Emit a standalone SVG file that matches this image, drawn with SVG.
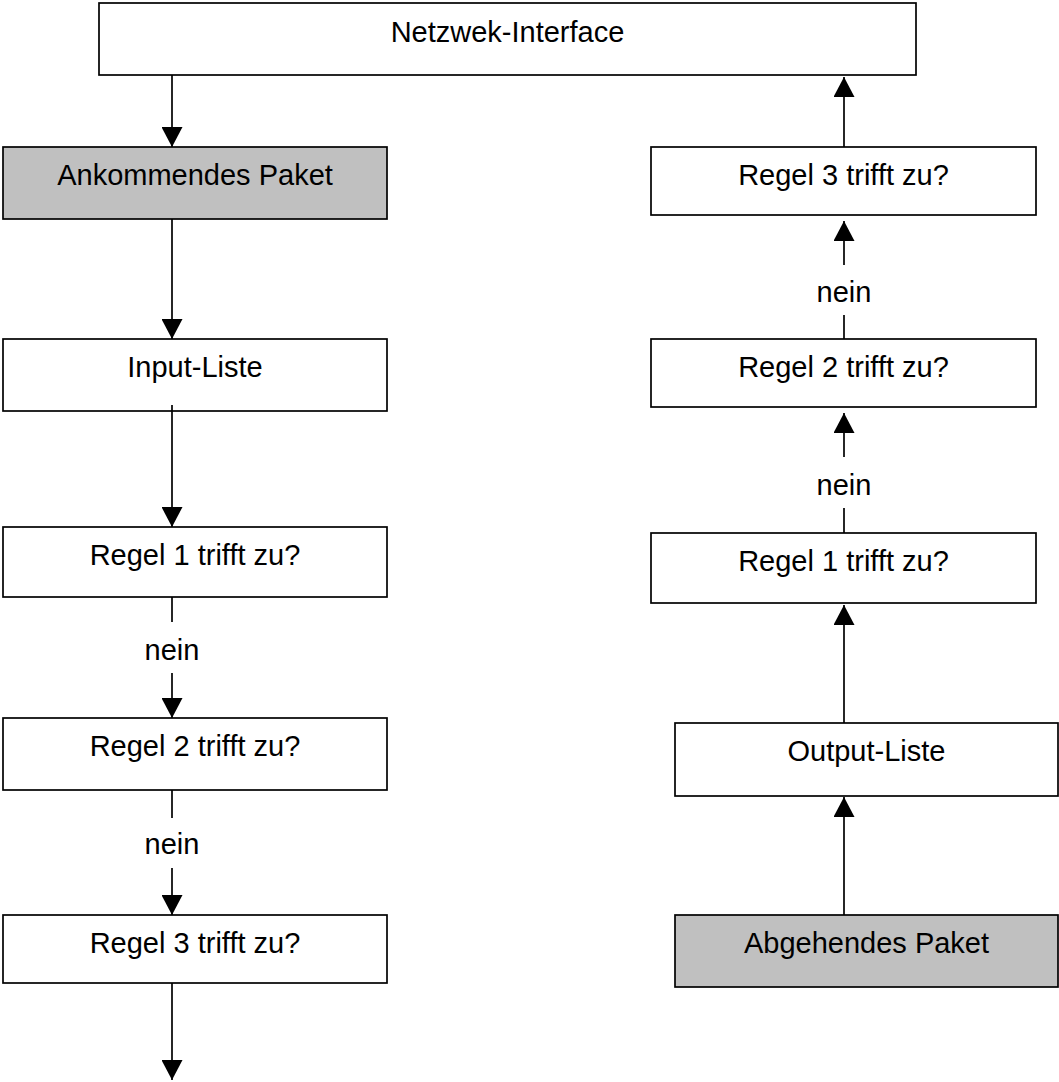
<svg xmlns="http://www.w3.org/2000/svg" width="1059" height="1082" viewBox="0 0 1059 1082">
<style>
.box{fill:#ffffff;stroke:#000000;stroke-width:1.7}
.gray{fill:#c0c0c0}
.t{font-family:"Liberation Sans",Arial,sans-serif;font-size:29px;fill:#000000;text-anchor:middle}
.c{stroke:#000000;stroke-width:1.7;fill:none}
.a{marker-end:url(#ah)}
</style>
<defs>
<marker id="ah" markerUnits="userSpaceOnUse" markerWidth="21" markerHeight="21" refX="20" refY="10.5" orient="auto" viewBox="0 0 20 21">
<path d="M0,0 L20,10.5 L0,21 z" fill="#000000"/>
</marker>
</defs>
<rect width="1059" height="1082" fill="#ffffff"/>
<g id="connectors">
<line class="c a" x1="172" y1="75" x2="172" y2="147"/>
<line class="c a" x1="172" y1="219" x2="172" y2="339"/>
<line class="c a" x1="172" y1="407" x2="172" y2="527"/>
<line class="c" x1="172" y1="597" x2="172" y2="622"/>
<line class="c a" x1="172" y1="673" x2="172" y2="718"/>
<line class="c" x1="172" y1="790" x2="172" y2="818"/>
<line class="c a" x1="172" y1="868" x2="172" y2="915"/>
<line class="c a" x1="172" y1="983" x2="172" y2="1080"/>
<line class="c a" x1="844" y1="147" x2="844" y2="77"/>
<line class="c a" x1="844" y1="265" x2="844" y2="221"/>
<line class="c" x1="844" y1="315" x2="844" y2="339"/>
<line class="c a" x1="844" y1="457" x2="844" y2="413"/>
<line class="c" x1="844" y1="508" x2="844" y2="533"/>
<line class="c a" x1="844" y1="723" x2="844" y2="605"/>
<line class="c a" x1="844" y1="915" x2="844" y2="797"/>
<text class="t" x="172" y="660">nein</text>
<text class="t" x="172" y="854">nein</text>
<text class="t" x="844" y="302">nein</text>
<text class="t" x="844" y="495">nein</text>
</g>
<g id="netzwerk-interface">
<rect class="box" x="99" y="3" width="817" height="72"/>
<text class="t" x="507.5" y="42">Netzwek-Interface</text>
</g>
<g id="ankommendes-paket">
<rect class="box gray" x="3" y="147" width="384" height="72"/>
<text class="t" x="195" y="185">Ankommendes Paket</text>
</g>
<g id="input-liste">
<rect class="box" x="3" y="339" width="384" height="72"/>
<text class="t" x="195" y="377">Input-Liste</text>
</g>
<line class="c" x1="172" y1="405" x2="172" y2="411"/>
<g id="in-regel-1">
<rect class="box" x="3" y="527" width="384" height="70"/>
<text class="t" x="195" y="565">Regel 1 trifft zu?</text>
</g>
<g id="in-regel-2">
<rect class="box" x="3" y="718" width="384" height="72"/>
<text class="t" x="195" y="756">Regel 2 trifft zu?</text>
</g>
<g id="in-regel-3">
<rect class="box" x="3" y="915" width="384" height="68"/>
<text class="t" x="195" y="953">Regel 3 trifft zu?</text>
</g>
<g id="out-regel-3">
<rect class="box" x="651" y="147" width="385" height="68"/>
<text class="t" x="843.5" y="185">Regel 3 trifft zu?</text>
</g>
<g id="out-regel-2">
<rect class="box" x="651" y="339" width="385" height="68"/>
<text class="t" x="843.5" y="377">Regel 2 trifft zu?</text>
</g>
<g id="out-regel-1">
<rect class="box" x="651" y="533" width="385" height="70"/>
<text class="t" x="843.5" y="571">Regel 1 trifft zu?</text>
</g>
<g id="output-liste">
<rect class="box" x="675" y="723" width="383" height="73"/>
<text class="t" x="866.5" y="761">Output-Liste</text>
</g>
<g id="abgehendes-paket">
<rect class="box gray" x="675" y="915" width="383" height="72"/>
<text class="t" x="866.5" y="953">Abgehendes Paket</text>
</g>
</svg>
